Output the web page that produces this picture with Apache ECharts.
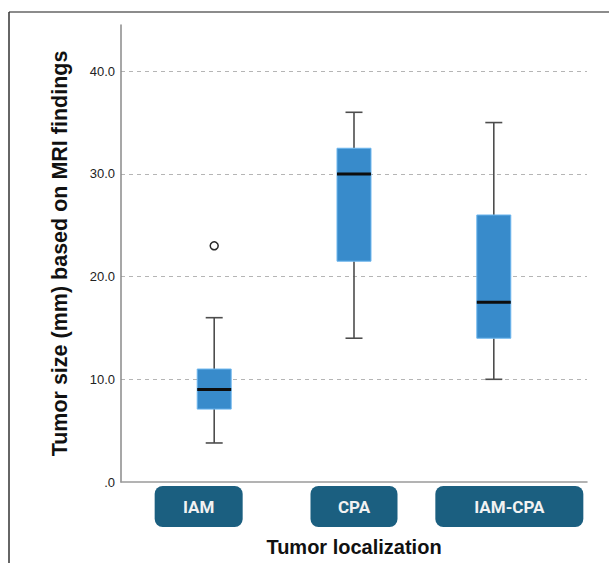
<!DOCTYPE html>
<html>
<head>
<meta charset="utf-8">
<script src="https://cdn.jsdelivr.net/npm/echarts@6/dist/echarts.min.js"></script>
<style>
  html, body { margin: 0; padding: 0; background: #fff; }
  #chart { width: 609px; height: 563px; }
</style>
</head>
<body>
<div id="chart"></div>
<script>
// Tumor size by localization: five-number summaries per group
const categories = ['IAM', 'CPA', 'IAM-CPA'];
const whiskerLow = [3.8, 14.0, 10.0];
const quartile1 = [7.1, 21.5, 14.0];
const medians = [9.0, 30.0, 17.5];
const quartile3 = [11.0, 32.5, 26.0];
const whiskerHigh = [16.0, 36.0, 35.0];
// outliers as [group index, value]
const outliers = [[0, 23.0]];
const yTicks = [0, 10, 20, 30, 40];

const BOX_W = 0.243;          // box width in x-axis units
const labelWidths = [88, 87, 148];

const chart = echarts.init(document.getElementById('chart'), null, { renderer: 'svg' });

const boxData = categories.map((c, i) => [i, whiskerLow[i], quartile1[i], medians[i], quartile3[i], whiskerHigh[i]]);

const rich = {};
categories.forEach((c, i) => {
  rich['b' + i] = {
    width: labelWidths[i],
    height: 41,
    lineHeight: 41,
    align: 'center',
    backgroundColor: '#1b5f80',
    borderRadius: 8,
    color: '#f2f2f2',
    fontSize: 17,
    fontWeight: 'bold',
    fontFamily: 'Roboto, "Liberation Sans", sans-serif'
  };
});

const titleFont = '"Liberation Sans", Arial, sans-serif';

const option = {
  backgroundColor: '#fff',
  animation: false,
  grid: { left: 121, right: 22, top: 25, bottom: 81, containLabel: false },
  xAxis: [
    {
      type: 'value', min: -2 / 3, max: 8 / 3, show: false
    },
    {
      type: 'category', data: categories, position: 'bottom', offset: 0,
      boundaryGap: true,
      axisLine: { show: true, onZero: false, lineStyle: { color: '#9a9a9a', width: 1.5 } },
      axisTick: { show: false },
      axisLabel: {
        margin: 4,
        formatter: (v) => '{b' + categories.indexOf(v) + '|' + v + '}',
        rich: rich
      },
      name: 'Tumor localization',
      nameLocation: 'middle',
      nameGap: 55,
      nameTextStyle: { fontSize: 20, fontWeight: 'bold', color: '#111', fontFamily: titleFont }
    }
  ],
  yAxis: {
    type: 'value', min: 0, max: 44.5, interval: 10,
    axisLine: { show: true, onZero: false, lineStyle: { color: '#8a8a8a', width: 1.5 } },
    axisTick: { show: false },
    axisLabel: {
      margin: 6,
      color: '#222',
      fontSize: 13,
      fontFamily: titleFont,
      showMaxLabel: false,
      formatter: (v) => (yTicks.indexOf(v) < 0 ? '' : (v === 0 ? '.0' : v.toFixed(1)))
    },
    splitLine: {
      show: true, showMinLine: false, showMaxLine: false,
      lineStyle: { color: '#b5b5b5', type: [4, 4], width: 1 }
    },
    name: 'Tumor size (mm) based on MRI findings',
    nameLocation: 'middle',
    nameRotate: 90,
    nameGap: 50,
    nameTextStyle: { fontSize: 21.5, fontWeight: 'bold', color: '#111', fontFamily: titleFont }
  },
  graphic: [
    { type: 'line', shape: { x1: 9, y1: 12, x2: 609, y2: 12 }, style: { stroke: '#666', lineWidth: 1.5 }, silent: true },
    { type: 'line', shape: { x1: 9, y1: 12, x2: 9, y2: 563 }, style: { stroke: '#333', lineWidth: 1.5 }, silent: true }
  ],
  series: [
    {
      type: 'custom',
      xAxisIndex: 0,
      data: boxData,
      encode: { x: 0, y: [1, 2, 3, 4, 5] },
      renderItem: function (params, api) {
        const x = api.value(0);
        const lo = api.coord([x, api.value(1)]);
        const q1 = api.coord([x, api.value(2)]);
        const md = api.coord([x, api.value(3)]);
        const q3 = api.coord([x, api.value(4)]);
        const hi = api.coord([x, api.value(5)]);
        const w = api.size([BOX_W, 0])[0];
        const cx = lo[0];
        const cap = w / 4;
        const whisk = { stroke: '#4d4d4d', lineWidth: 1.6 };
        return {
          type: 'group',
          children: [
            { type: 'line', shape: { x1: cx, y1: lo[1], x2: cx, y2: q1[1] }, style: whisk },
            { type: 'line', shape: { x1: cx, y1: q3[1], x2: cx, y2: hi[1] }, style: whisk },
            { type: 'line', shape: { x1: cx - cap, y1: lo[1], x2: cx + cap, y2: lo[1] }, style: whisk },
            { type: 'line', shape: { x1: cx - cap, y1: hi[1], x2: cx + cap, y2: hi[1] }, style: whisk },
            {
              type: 'rect',
              shape: { x: cx - w / 2, y: q3[1], width: w, height: q1[1] - q3[1] },
              style: { fill: '#388bcb', stroke: '#6cb6ee', lineWidth: 1 }
            },
            { type: 'line', shape: { x1: cx - w / 2, y1: md[1], x2: cx + w / 2, y2: md[1] }, style: { stroke: '#0d0d0d', lineWidth: 3 } }
          ]
        };
      },
      z: 3
    },
    {
      type: 'scatter',
      xAxisIndex: 0,
      data: outliers,
      symbol: 'circle',
      symbolSize: 8,
      itemStyle: { color: '#fff', borderColor: '#2a2a2a', borderWidth: 1.5, opacity: 1 },
      z: 4
    }
  ]
};

chart.setOption(option);
</script>
</body>
</html>
